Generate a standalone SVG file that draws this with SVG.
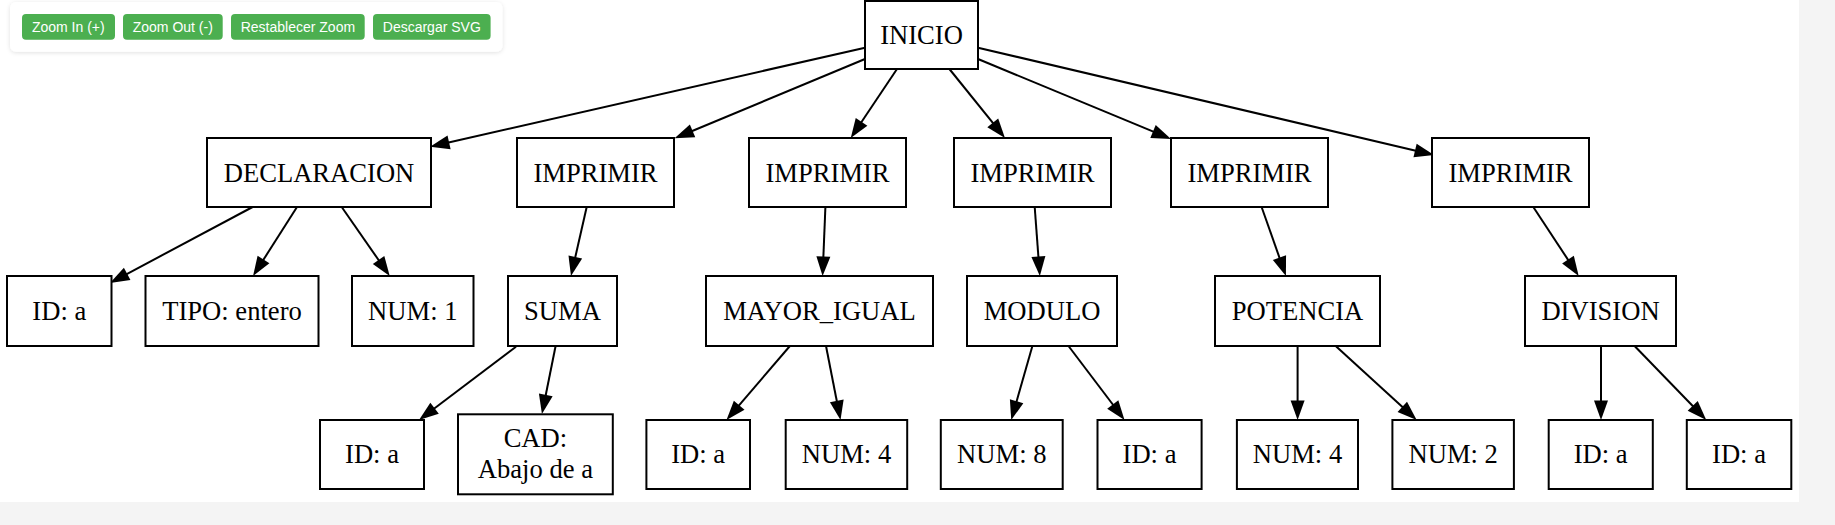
<svg xmlns="http://www.w3.org/2000/svg" width="1835" height="525" viewBox="0 0 1835 525">
<defs>
<style>
.bg{fill:#f4f4f4}
.canvas{fill:#ffffff}
.node rect{fill:#ffffff;stroke:#000000;stroke-width:2}
.node text{font-family:"Liberation Serif","Times New Roman",serif;font-size:26.6px;fill:#000000;text-anchor:middle}
.edge line{stroke:#000000;stroke-width:2;marker-end:url(#arrow)}
.btn rect{fill:#4caf50}
.btn text{font-family:"Liberation Sans",Arial,sans-serif;font-size:14px;fill:#ffffff;text-anchor:middle}
</style>
<marker id="arrow" markerUnits="userSpaceOnUse" viewBox="0 -8 21 16" markerWidth="21" markerHeight="16" refX="9.5" refY="0" orient="auto" overflow="visible">
<path d="M0,-7 L19.5,0 L0,7 Z" fill="#000000"/>
</marker>
<filter id="shadow" x="-5%" y="-30%" width="110%" height="160%">
<feDropShadow dx="0" dy="1" stdDeviation="2" flood-color="#000000" flood-opacity="0.12"/>
</filter>
</defs>

<rect class="bg" x="0" y="0" width="1835" height="525"/>
<rect class="canvas" x="0" y="0" width="1799" height="502"/>

<g id="toolbar">
<rect x="10" y="2" width="492.5" height="49.7" rx="6" fill="#ffffff" filter="url(#shadow)"/>
<g class="btn" id="btn-zoom-in"><rect x="22" y="14" width="93" height="25.7" rx="4"/><text x="68.3" y="32">Zoom In (+)</text></g>
<g class="btn" id="btn-zoom-out"><rect x="123" y="14" width="99.7" height="25.7" rx="4"/><text x="172.8" y="32">Zoom Out (-)</text></g>
<g class="btn" id="btn-reset"><rect x="231" y="14" width="133.7" height="25.7" rx="4"/><text x="297.9" y="32">Restablecer Zoom</text></g>
<g class="btn" id="btn-download"><rect x="373" y="14" width="117.6" height="25.7" rx="4"/><text x="431.8" y="32">Descargar SVG</text></g>
</g>

<g id="connectors" class="edge">
<line x1="865" y1="47.7" x2="439.8" y2="144.5"/>
<line x1="865" y1="59" x2="683.8" y2="134.5"/>
<line x1="897" y1="69" x2="856.3" y2="129.7"/>
<line x1="949.4" y1="69" x2="998.7" y2="130.2"/>
<line x1="978" y1="59" x2="1161.8" y2="135.2"/>
<line x1="978" y1="47.7" x2="1424.3" y2="152.7"/>
<line x1="252.6" y1="207" x2="118.8" y2="278.3"/>
<line x1="297" y1="207" x2="258.4" y2="267.6"/>
<line x1="341.7" y1="207" x2="384" y2="267.8"/>
<line x1="586.7" y1="207" x2="573.2" y2="266.3"/>
<line x1="516" y1="346.7" x2="427" y2="414"/>
<line x1="555.6" y1="346" x2="543.9" y2="404.2"/>
<line x1="825.4" y1="207" x2="823" y2="266"/>
<line x1="1034.7" y1="207" x2="1039.1" y2="266"/>
<line x1="1261.6" y1="207" x2="1282.6" y2="266.6"/>
<line x1="1533.3" y1="207" x2="1573.2" y2="267.6"/>
<line x1="789.9" y1="346" x2="733" y2="412.4"/>
<line x1="826" y1="346" x2="838.6" y2="410.2"/>
<line x1="1032.4" y1="346" x2="1014" y2="410.4"/>
<line x1="1068.5" y1="346" x2="1118.5" y2="412"/>
<line x1="1297.6" y1="346" x2="1297.6" y2="410"/>
<line x1="1335.7" y1="346" x2="1409.3" y2="413.3"/>
<line x1="1601" y1="346" x2="1601" y2="410"/>
<line x1="1634.6" y1="346" x2="1699.3" y2="412.8"/>
</g>

<g id="n-inicio" class="node"><rect x="865" y="1" width="113" height="68"/><text x="921.5" y="43.5">INICIO</text></g>

<g id="n-declaracion" class="node"><rect x="207" y="138" width="224" height="69"/><text x="319" y="181.5">DECLARACION</text></g>
<g id="n-imprimir1" class="node"><rect x="517" y="138" width="157" height="69"/><text x="595.5" y="181.5">IMPRIMIR</text></g>
<g id="n-imprimir2" class="node"><rect x="749" y="138" width="157" height="69"/><text x="827.5" y="181.5">IMPRIMIR</text></g>
<g id="n-imprimir3" class="node"><rect x="954" y="138" width="157" height="69"/><text x="1032.5" y="181.5">IMPRIMIR</text></g>
<g id="n-imprimir4" class="node"><rect x="1171" y="138" width="157" height="69"/><text x="1249.5" y="181.5">IMPRIMIR</text></g>
<g id="n-imprimir5" class="node"><rect x="1432" y="138" width="157" height="69"/><text x="1510.5" y="181.5">IMPRIMIR</text></g>

<g id="n-id-a-1" class="node"><rect x="7" y="276" width="104.5" height="70"/><text x="59.3" y="320">ID: a</text></g>
<g id="n-tipo" class="node"><rect x="145.5" y="276" width="173" height="70"/><text x="232" y="320">TIPO: entero</text></g>
<g id="n-num-1" class="node"><rect x="352" y="276" width="121.5" height="70"/><text x="412.8" y="320">NUM: 1</text></g>
<g id="n-suma" class="node"><rect x="508" y="276" width="109" height="70"/><text x="562.5" y="320">SUMA</text></g>
<g id="n-mayor-igual" class="node"><rect x="706" y="276" width="227" height="70"/><text x="819.5" y="320">MAYOR_IGUAL</text></g>
<g id="n-modulo" class="node"><rect x="967" y="276" width="150" height="70"/><text x="1042" y="320">MODULO</text></g>
<g id="n-potencia" class="node"><rect x="1215" y="276" width="165" height="70"/><text x="1297.5" y="320">POTENCIA</text></g>
<g id="n-division" class="node"><rect x="1525" y="276" width="151" height="70"/><text x="1600.5" y="320">DIVISION</text></g>

<g id="n-id-a-2" class="node"><rect x="320" y="420" width="104" height="69"/><text x="372" y="463">ID: a</text></g>
<g id="n-cad" class="node"><rect x="458" y="414.3" width="154.8" height="80"/><text x="535.4" y="446.5">CAD:</text><text x="535.4" y="478.3">Abajo de a</text></g>
<g id="n-id-a-3" class="node"><rect x="646.4" y="420" width="103.6" height="69"/><text x="698.2" y="463">ID: a</text></g>
<g id="n-num-4a" class="node"><rect x="785.7" y="420" width="121.5" height="69"/><text x="846.5" y="463">NUM: 4</text></g>
<g id="n-num-8" class="node"><rect x="940.8" y="420" width="121.9" height="69"/><text x="1001.8" y="463">NUM: 8</text></g>
<g id="n-id-a-4" class="node"><rect x="1097.5" y="420" width="104.1" height="69"/><text x="1149.5" y="463">ID: a</text></g>
<g id="n-num-4b" class="node"><rect x="1236.9" y="420" width="121.1" height="69"/><text x="1297.5" y="463">NUM: 4</text></g>
<g id="n-num-2" class="node"><rect x="1392.4" y="420" width="121.5" height="69"/><text x="1453.2" y="463">NUM: 2</text></g>
<g id="n-id-a-5" class="node"><rect x="1548.7" y="420" width="104.1" height="69"/><text x="1600.7" y="463">ID: a</text></g>
<g id="n-id-a-6" class="node"><rect x="1686.8" y="420" width="104.5" height="69"/><text x="1739" y="463">ID: a</text></g>
</svg>
